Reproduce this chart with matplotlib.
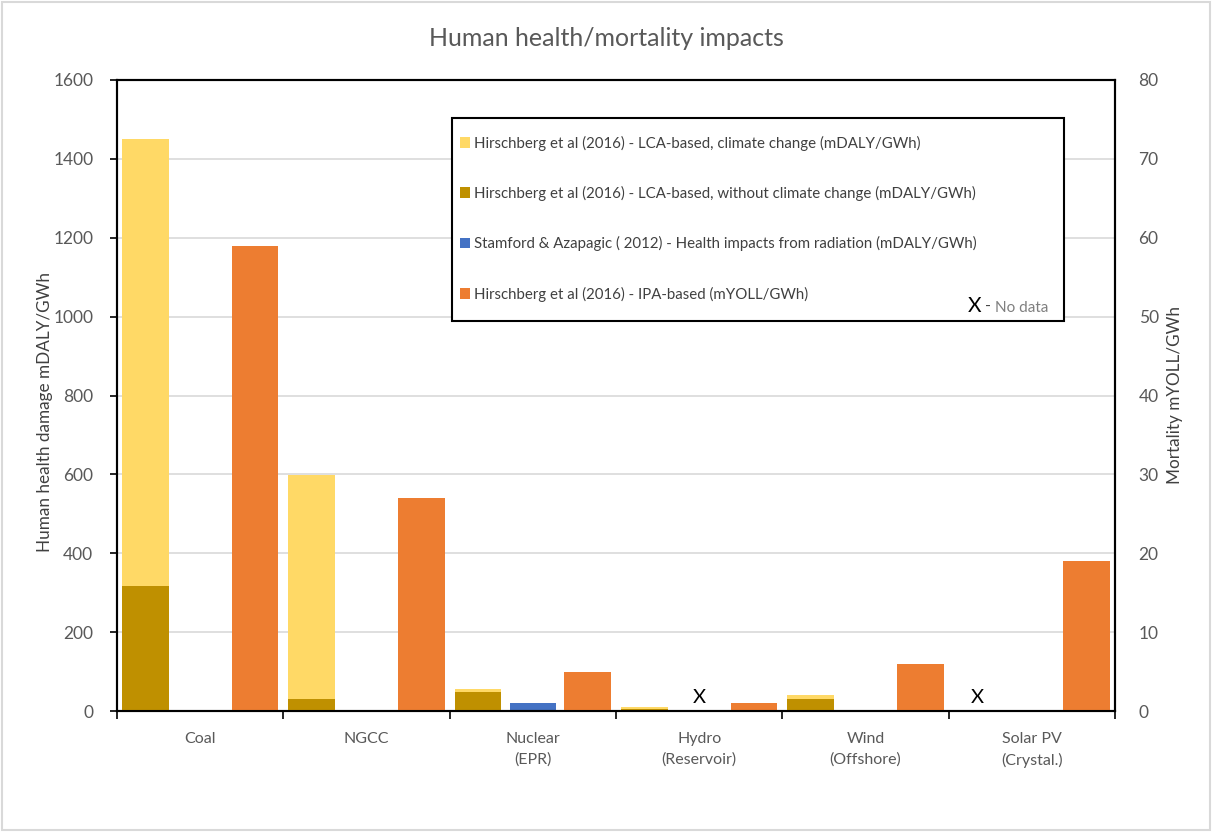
import numpy as np
import matplotlib
matplotlib.use("Agg")
import matplotlib.pyplot as plt
from matplotlib.patches import Patch, Rectangle

plt.rcParams['font.family'] = ['Lato', 'DejaVu Sans']

categories = ["Coal", "NGCC", "Nuclear\n(EPR)", "Hydro\n(Reservoir)", "Wind\n(Offshore)", "Solar PV\n(Crystal.)"]
lca_climate = [1450, 598, 56, 10, 40, np.nan]          # mDALY/GWh
lca_no_climate = [318, 30, 48, 5, 30, np.nan]           # mDALY/GWh
radiation = [np.nan, np.nan, 20, np.nan, np.nan, np.nan]  # mDALY/GWh
ipa_mortality = [59, 27, 5, 1, 6, 19]                   # mYOLL/GWh
no_data = [(3, 0), (5, -1)]  # (category index, bar slot)

labels = ["Hirschberg et al (2016) - LCA-based, climate change (mDALY/GWh)",
          "Hirschberg et al (2016) - LCA-based, without climate change (mDALY/GWh)",
          "Stamford & Azapagic ( 2012) - Health impacts from radiation (mDALY/GWh)",
          "Hirschberg et al (2016) - IPA-based (mYOLL/GWh)"]
colors = ["#FFD966", "#BF9000", "#4472C4", "#ED7D31"]

GRAY = "#595959"
fig = plt.figure(figsize=(12.12, 8.32), dpi=100)
ax = fig.add_axes([117/1212, 1-711/832, 998/1212, 631/832])
ax2 = ax.twinx()

x = np.arange(len(categories))
w = 0.28
off = 0.33
ax.bar(x - off, lca_climate, w, color=colors[0], zorder=2)
ax.bar(x - off, lca_no_climate, w, color=colors[1], zorder=3)
ax.bar(x, radiation, w, color=colors[2], zorder=2)
ax2.bar(x + off, ipa_mortality, w, color=colors[3], zorder=2)

for ci, slot in no_data:
    ax.text(ci + slot * off, 33, "X", ha="center", va="center", fontsize=14.5, color="black", zorder=5)

ax.set_xlim(-0.5, len(categories) - 0.5)
ax.set_ylim(0, 1600)
ax.set_yticks(np.arange(0, 1601, 200))
ax2.set_ylim(0, 80)
ax2.set_yticks(np.arange(0, 81, 10))
ax.grid(axis="y", color="#D9D9D9", linewidth=1.2)
ax.set_axisbelow(True)

ax.set_xticks(np.arange(-0.5, len(categories), 1.0))
ax.set_xticklabels([])
ax.set_xticks(x, minor=True)
ax.set_xticklabels(categories, minor=True, fontsize=11.5, color=GRAY, linespacing=1.55)
ax.tick_params(axis="x", which="major", direction="out", length=6, color="black", width=1.2)
ax.tick_params(axis="x", which="minor", length=0, pad=15)
ax.tick_params(axis="y", direction="out", length=5, color="black", width=1.2, labelsize=12.5, labelcolor=GRAY, pad=12)
ax2.tick_params(axis="y", length=0, labelsize=12.5, labelcolor=GRAY, pad=17)

for a in (ax, ax2):
    for s in a.spines.values():
        s.set_color("black")
        s.set_linewidth(1.5)

ax.set_ylabel("Human health damage mDALY/GWh", fontsize=12.3, color="#404040")
ax.yaxis.set_label_coords(-64/998, (711-412)/631)
ax2.set_ylabel("Mortality mYOLL/GWh", fontsize=12.3, color="#404040")
ax2.yaxis.set_label_coords(1 + 52/998, (711-395)/631)

fig.text(0.5, 1-38/832, "Human health/mortality impacts", ha="center", va="center", fontsize=18, color=GRAY)

# legend box
bx0 = (452-117)/998
by0 = (711-321)/631
ax2.add_patch(Rectangle((bx0, by0), (1064-452)/998, (321-118)/631, transform=ax2.transAxes,
                        facecolor="white", edgecolor="black", linewidth=1.5, zorder=10))
handles = [Patch(facecolor=c, edgecolor="none") for c in colors]
leg = ax2.legend(handles, labels, loc="upper left", bbox_to_anchor=((455-117)/998, (711-131)/631),
                 frameon=False, fontsize=10.8, labelcolor="#404040", handlelength=0.7, handleheight=0.7,
                 handletextpad=0.3, labelspacing=2.35, borderaxespad=0, borderpad=0.3)
leg.set_zorder(11)
ax2.text((968-117)/998, (711-306)/631, "X", transform=ax2.transAxes, fontsize=15, color="black",
         ha="left", va="center", zorder=12)
ax2.text((985-117)/998, (711-307)/631, "-", transform=ax2.transAxes, fontsize=11.5, color="#404040",
         ha="left", va="center", zorder=12)
ax2.text((995-117)/998, (711-308)/631, "No data", transform=ax2.transAxes, fontsize=11, color="#7F7F7F",
         ha="left", va="center", zorder=12)

fig.patches.append(Rectangle((2/1212, 2/832), 1-4/1212, 1-4/832, transform=fig.transFigure,
                             fill=False, edgecolor="#D9D9D9", linewidth=1.5))

fig.savefig("out.png", dpi=100)
